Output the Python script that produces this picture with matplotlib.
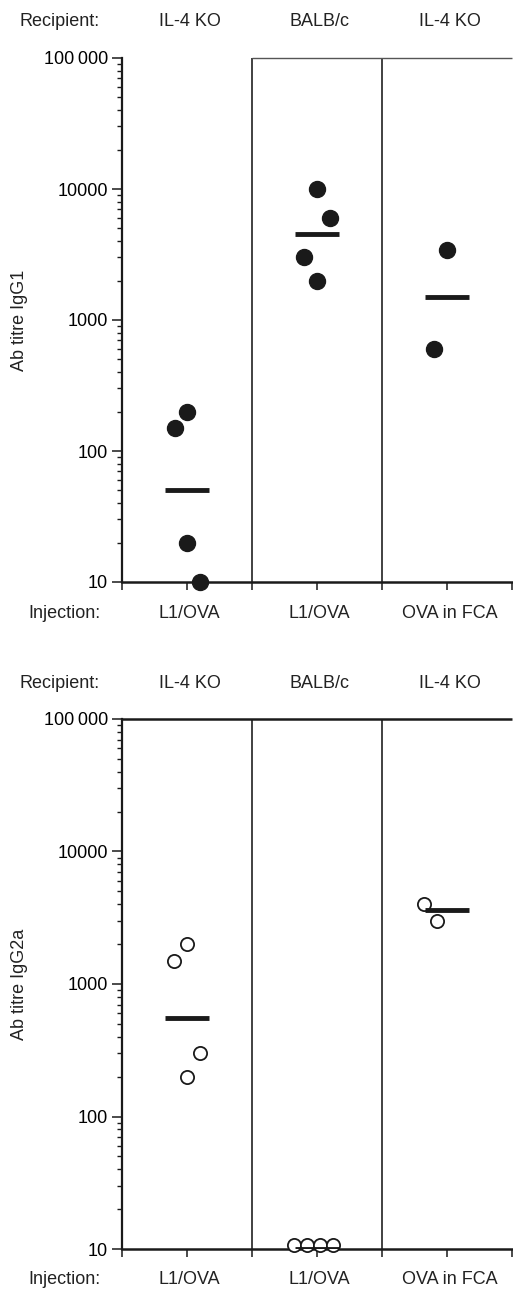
import matplotlib
matplotlib.use("Agg")
import matplotlib.pyplot as plt
import matplotlib.transforms as mtransforms
from matplotlib.ticker import FixedLocator, FixedFormatter, LogLocator, NullFormatter

plt.rcParams['font.family'] = ['Liberation Sans', 'DejaVu Sans']

# ── Data ─────────────────────────────────────────────────────────────
recipients = ["IL-4 KO", "BALB/c", "IL-4 KO"]
injections = ["L1/OVA", "L1/OVA", "OVA in FCA"]

# IgG1 (filled circles)
igg1_values = [[200, 150, 20, 10], [10000, 6000, 3000, 2000], [3400, 600]]
igg1_jitter = [[0.0, -0.09, 0.0, 0.1], [0.0, 0.1, -0.1, 0.0], [0.0, -0.1]]
igg1_means = [50, 4500, 1500]

# IgG2a (open circles)
igg2a_values = [[2000, 1500, 300, 200], [10.7, 10.7, 10.7, 10.7], [4000, 3000]]
igg2a_jitter = [[0.0, -0.1, 0.1, 0.0], [-0.18, -0.08, 0.02, 0.12], [-0.18, -0.08]]
igg2a_means = [550, 10, 3600]

yticks = [10, 100, 1000, 10000, 100000]
yticklabels = ["10", "100", "1000", "10000", "100\u2009000"]

W, H = 513, 1289
fig = plt.figure(figsize=(W / 100, H / 100), dpi=100)

FS = 13
INK = '#1a1a1a'


def px(x, y):
    return x / W, 1 - y / H


def make_panel(top_px, bot_px, values, jitter, means, filled, ylabel, full_top):
    l, b = px(122, bot_px)
    r, t = px(512, top_px)
    ax = fig.add_axes([l, b, r - l, t - b])
    ax.set_yscale('log')
    ax.set_ylim(10, 100000)
    ax.set_xlim(-0.5, 2.5)

    for i, (vals, jit) in enumerate(zip(values, jitter)):
        xs = [i + j for j in jit]
        if filled:
            ax.plot(xs, vals, 'o', ms=11.5, color=INK, mec=INK, clip_on=False, zorder=4)
        else:
            ax.plot(xs, vals, 'o', ms=9.5, mfc='white', mec=INK, mew=1.3,
                    clip_on=False, zorder=4)
    ax.hlines(means, [i - 0.17 for i in range(3)], [i + 0.17 for i in range(3)],
              colors=INK, lw=3.5, zorder=5)

    # column dividers
    for xd in (0.5, 1.5):
        ax.axvline(xd, color='#333333', lw=1.3, zorder=1)

    for side in ('right', 'top'):
        ax.spines[side].set_visible(False)
    ax.spines['left'].set_linewidth(1.6)
    ax.spines['bottom'].set_linewidth(1.8)
    ax.spines['left'].set_color(INK)
    ax.spines['bottom'].set_color(INK)
    if full_top:
        ax.hlines(100000, -0.5, 2.5, colors=INK, lw=1.8, clip_on=False)
    else:
        ax.hlines(100000, 0.5, 2.5, colors='#555555', lw=1.0, clip_on=False)

    ax.yaxis.set_major_locator(FixedLocator(yticks))
    ax.yaxis.set_major_formatter(FixedFormatter(yticklabels))
    ax.yaxis.set_minor_locator(LogLocator(base=10, subs=range(2, 10)))
    ax.yaxis.set_minor_formatter(NullFormatter())
    ax.tick_params(axis='y', which='major', length=7, width=1.1, pad=3,
                   labelsize=FS, color=INK)
    ax.tick_params(axis='y', which='minor', length=3.5, width=1.0, color=INK)
    ax.set_xticks([-0.5, 0, 0.5, 1, 1.5, 2, 2.5])
    ax.set_xticklabels([])
    ax.tick_params(axis='x', which='major', length=6, width=1.1, color=INK)

    # header / footer text
    trans = mtransforms.blended_transform_factory(ax.transData, fig.transFigure)
    y_top = 1 - (top_px - 36) / H
    y_bot = 1 - (bot_px + 31) / H
    fig.text(60 / W, y_top, "Recipient:", ha='center', va='center', fontsize=FS, color='#222222')
    fig.text(64 / W, y_bot, "Injection:", ha='center', va='center', fontsize=FS, color='#222222')
    for i, (rc, inj) in enumerate(zip(recipients, injections)):
        ax.text(i + 0.02, y_top, rc, transform=trans, ha='center', va='center',
                fontsize=FS, color='#222222')
        ax.text(i + 0.02, y_bot, inj, transform=trans, ha='center', va='center',
                fontsize=FS, color='#222222')
    fig.text(20 / W, 1 - (top_px + bot_px) / 2 / H, ylabel, rotation=90,
             ha='center', va='center', fontsize=FS, color='#222222')
    return ax


make_panel(58, 582, igg1_values, igg1_jitter, igg1_means, True, "Ab titre IgG1", False)
make_panel(719, 1249, igg2a_values, igg2a_jitter, igg2a_means, False, "Ab titre IgG2a", True)

fig.savefig("out.png", dpi=100, facecolor='white')
